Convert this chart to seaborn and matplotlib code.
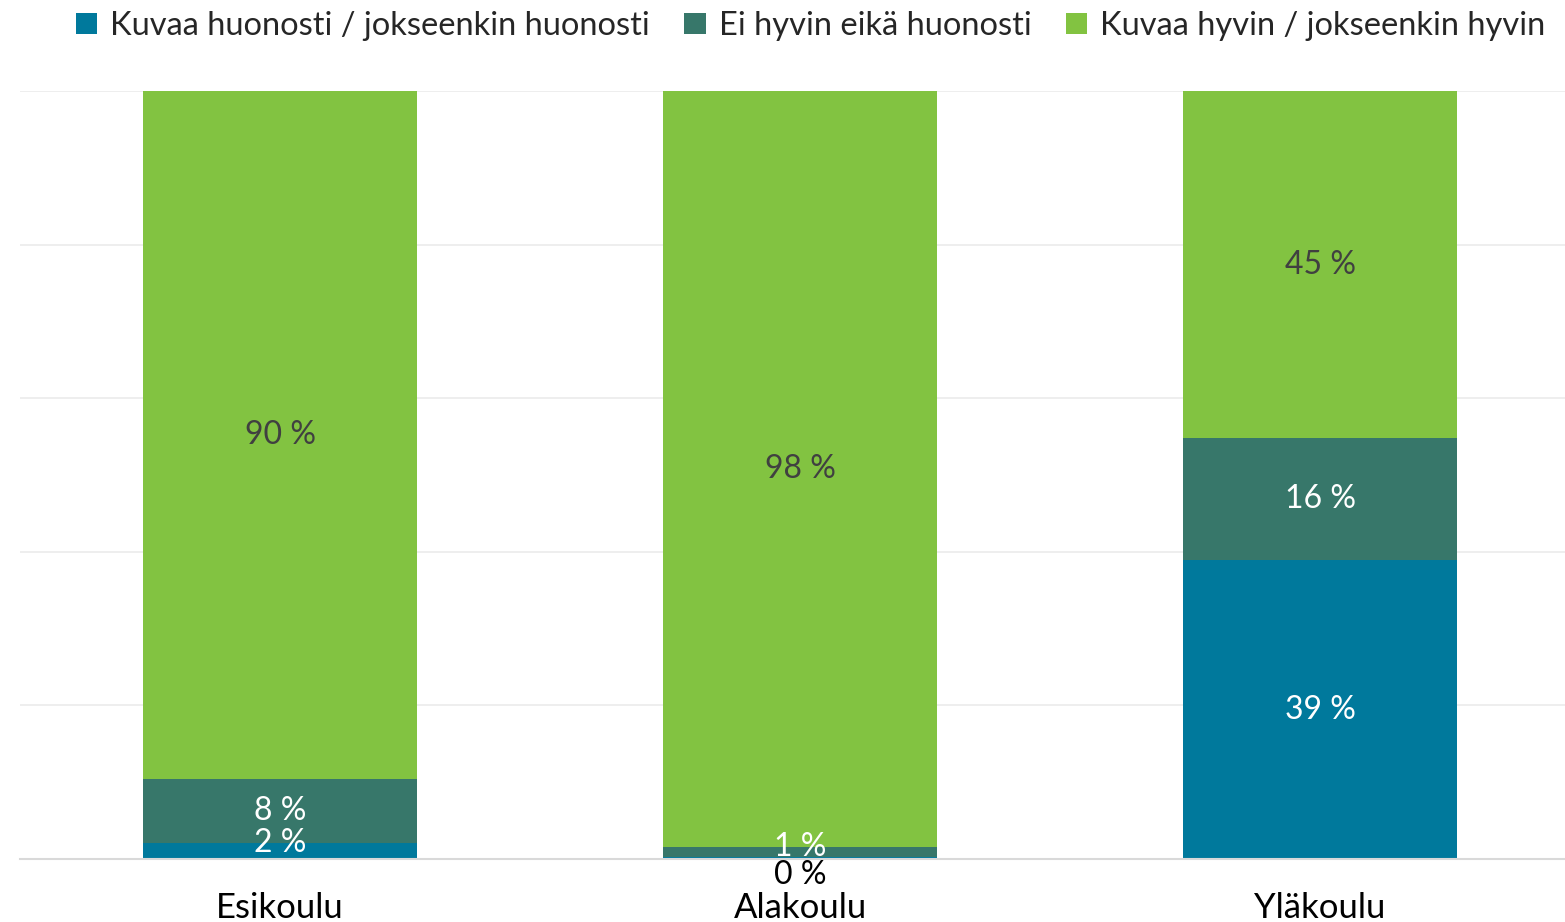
import matplotlib
matplotlib.use("Agg")
import matplotlib.pyplot as plt
import seaborn as sns
import pandas as pd
import numpy as np
from matplotlib.patches import Patch

categories = ["Esikoulu", "Alakoulu", "Yläkoulu"]
series_names = ["Kuvaa huonosti / jokseenkin huonosti", "Ei hyvin eikä huonosti", "Kuvaa hyvin / jokseenkin hyvin"]
huonosti = [2.1, 0.3, 38.9]
neutral = [8.3, 1.2, 15.9]
hyvin = [89.6, 98.5, 45.2]
label_text = [["2 %", "0 %", "39 %"], ["8 %", "1 %", "16 %"], ["90 %", "98 %", "45 %"]]

colors = ["#00799C", "#37776A", "#82C341"]
label_colors = [["white", "black", "white"], ["white", "white", "white"], ["#404040", "#404040", "#404040"]]

sns.set_theme(style="white")
plt.rcParams["font.family"] = ["Lato", "DejaVu Sans"]

fig = plt.figure(figsize=(15.65, 9.22), dpi=100)
ax = fig.add_axes([20/1565, 1-859/922, 1-20/1565, (859-91)/922])

series = [huonosti, neutral, hyvin]
cum = np.cumsum(np.array(series), axis=0)
# draw from top layer to bottom layer (overlay gives stacked look)
for i in [2, 1, 0]:
    df = pd.DataFrame({"cat": categories, "val": cum[i]})
    sns.barplot(data=df, x="cat", y="val", color=colors[i], saturation=1, width=0.527,
                ax=ax, linewidth=0, zorder=3)

ax.set_ylim(0, 100)
ax.set_xlim(-0.5, 2.471)
ax.set_yticks([0, 20, 40, 60, 80, 100])
ax.yaxis.grid(True, color="#EBEBEB", linewidth=1.2, zorder=0)
ax.set_yticklabels([])
ax.tick_params(axis="y", length=0)
ax.tick_params(axis="x", length=0, labelsize=25, pad=24, colors="black")
ax.set_xlabel("")
ax.set_ylabel("")
for s in ["top", "right", "left"]:
    ax.spines[s].set_visible(False)
ax.spines["bottom"].set_color("#D9D9D9")
ax.spines["bottom"].set_linewidth(1.5)
ax.spines["bottom"].set_zorder(5)

# data labels at segment centres, small segments nudged
bottoms = np.vstack([np.zeros(3), cum[:-1]])
offsets_pt = [[6, -12, 0], [0, 4, 0], [0, 0, 0]]
for i in range(3):
    for j in range(3):
        center = bottoms[i][j] + series[i][j] / 2
        ax.annotate(label_text[i][j], (j, center), xytext=(0, offsets_pt[i][j]),
                    textcoords="offset points", ha="center", va="center",
                    fontsize=23, color=label_colors[i][j], zorder=6, annotation_clip=False)

handles = [Patch(facecolor=c, edgecolor="none") for c in colors]
fig.legend(handles, series_names, loc="upper center", bbox_to_anchor=(0.518, 1.02), ncol=3,
           frameon=False, fontsize=23.5, handlelength=0.65, handleheight=0.65, handletextpad=0.4,
           columnspacing=1.05)

fig.savefig("out.png", dpi=100)
